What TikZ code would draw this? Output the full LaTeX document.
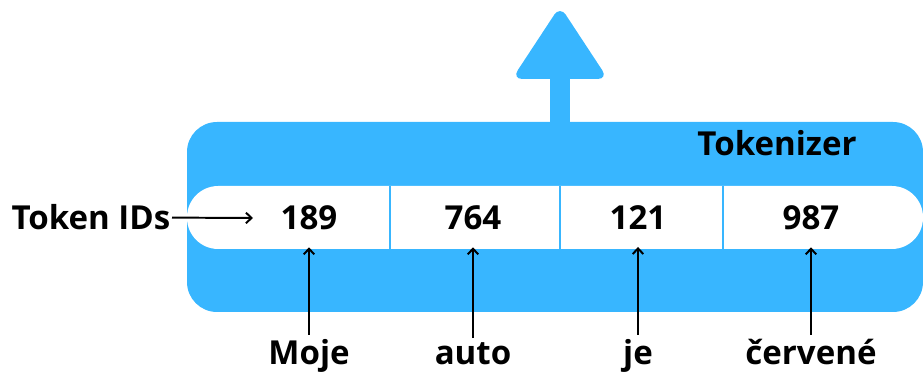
\documentclass[tikz,border=0pt]{standalone}
\usepackage{fontspec}
\setmainfont{Open Sans}
\usetikzlibrary{arrows.meta}
\definecolor{tokblue}{HTML}{38B6FF}
\begin{document}
\begin{tikzpicture}[x=0.025cm, y=-0.025cm]
    % Define styles
    \tikzset{
        panel/.style={fill=tokblue, rounded corners=0.75cm},
        strip/.style={fill=white, rounded corners=0.78cm},
        divider/.style={draw=tokblue, line width=1.2pt},
        label/.style={font=\fontsize{23.5}{28}\selectfont\bfseries, anchor=base},
        arrow/.style={->, >={Straight Barb[length=4pt,width=7.5pt]}, line width=1.4pt}
    }
    \useasboundingbox (0,0) rectangle (923,372);

    % Output arrow
    \fill[tokblue] (550,70) rectangle (570,130);
    \fill[tokblue, rounded corners=0.26cm] (512,79) -- (560,6) -- (608,79) -- cycle;

    % Tokenizer body
    \fill[panel] (187,122) rectangle (923,312);
    \node[label] (title) at (777,156) {Tokenizer};

    % Token strip
    \fill[strip] (187,186) rectangle (923,249);
    \foreach \x in {390,560,723}
        \draw[divider] (\x,186) -- (\x,249);

    % Token IDs
    \node[label] (n189) at (309,230) {189};
    \node[label] (n764) at (473,230) {764};
    \node[label] (n121) at (638,230) {121};
    \node[label] (n987) at (811,230) {987};

    % Input words
    \node[label] (moje) at (309,365) {Moje};
    \node[label] (auto) at (473,365) {auto};
    \node[label] (je) at (638,365) {je};
    \node[label] (cervene) at (811,365) {červené};

    % Arrows from words to IDs
    \draw[arrow, shorten >=0.3cm] (moje.north) -- (n189.south);
    \draw[arrow, shorten >=0.3cm] (auto.north) -- (n764.south);
    \draw[arrow, shorten >=0.3cm] (je.north) -- (n121.south);
    \draw[arrow, shorten >=0.3cm] (cervene.north) -- (n987.south);

    % Side label
    \node[label, anchor=base east, inner sep=1pt] (ids) at (172,230) {Token IDs};
    \coordinate (idsend) at (253,218);
    \draw[arrow] (ids.east) -- (idsend);

\end{tikzpicture}
\end{document}
